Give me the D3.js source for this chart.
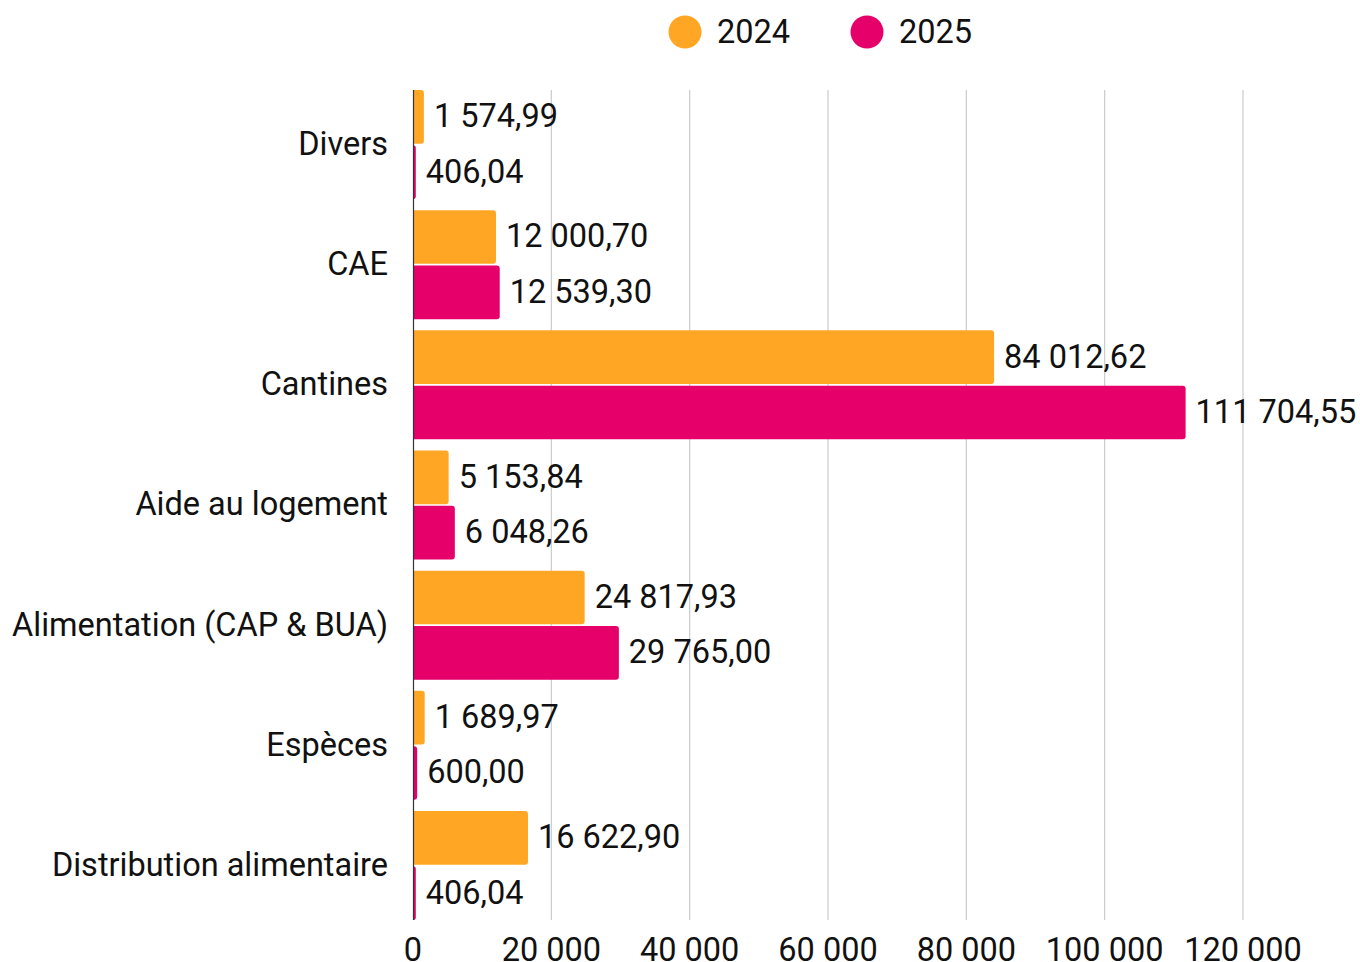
<!DOCTYPE html>
<html><head><meta charset="utf-8">
<script src="https://cdn.jsdelivr.net/npm/d3@7"></script>
<style>body{margin:0;background:#fff}svg{display:block;font-family:Roboto,sans-serif}</style>
</head><body><svg id="c" width="1360" height="962"></svg>
<script>
const categories = ["Divers","CAE","Cantines","Aide au logement","Alimentation (CAP & BUA)","Espèces","Distribution alimentaire"];
const seriesNames = ["2024","2025"];
const values2024 = [1574.99,12000.70,84012.62,5153.84,24817.93,1689.97,16622.90];
const values2025 = [406.04,12539.30,111704.55,6048.26,29765.00,600.00,406.04];
const tickValues = [0,20000,40000,60000,80000,100000,120000];
const colors = ["#FFA624","#E5006A"];

const svg = d3.select("#c");
const loc = d3.formatLocale({decimal:",", thousands:"\u00a0", grouping:[3], currency:["",""]});
const fmtVal = loc.format(",.2f");
const fmtTick = loc.format(",d");
const FS = 32.5;

const x = d3.scaleLinear().domain([0,120000]).range([413,1243]);
const y0 = d3.scaleBand().domain(categories).range([90,920]).paddingInner(0.093).paddingOuter(0);
const y1 = d3.scaleBand().domain(seriesNames).range([0,y0.bandwidth()]).paddingInner(0.03);

// grid
svg.append("g").selectAll("line").data(tickValues.slice(1)).join("line")
  .attr("x1",d=>x(d)).attr("x2",d=>x(d)).attr("y1",90).attr("y2",920)
  .attr("stroke","#cccccc").attr("stroke-width",1.2);

const rows = categories.map((c,i)=>({cat:c, vals:[values2024[i],values2025[i]]}));
function barPath(x0,x1,yy,h){
  const w=x1-x0, r=Math.min(3,w);
  return `M${x0},${yy}H${x1-r}Q${x1},${yy} ${x1},${yy+r}V${yy+h-r}Q${x1},${yy+h} ${x1-r},${yy+h}H${x0}Z`;
}
const g = svg.append("g").selectAll("g").data(rows).join("g")
  .attr("transform",d=>`translate(0,${y0(d.cat)})`);
g.selectAll("path").data(d=>d.vals.map((v,j)=>({v,s:seriesNames[j],j}))).join("path")
  .attr("d",d=>barPath(x(0),x(d.v),y1(d.s),y1.bandwidth()))
  .attr("fill",d=>colors[d.j]);
g.selectAll("text.v").data(d=>d.vals.map((v,j)=>({v,s:seriesNames[j],j}))).join("text")
  .attr("class","v")
  .attr("x",d=>x(d.v)+10).attr("y",d=>y1(d.s)+y1.bandwidth()/2)
  .attr("dy","0.32em").attr("font-size",FS).attr("fill","#111")
  .text(d=>fmtVal(d.v));

// category labels
svg.append("g").selectAll("text").data(categories).join("text")
  .attr("x",388).attr("y",d=>y0(d)+y0.bandwidth()/2)
  .attr("dy","0.32em").attr("text-anchor","end").attr("font-size",FS).attr("fill","#111")
  .text(d=>d);

// axis line
svg.append("line").attr("x1",413.5).attr("x2",413.5).attr("y1",90).attr("y2",920)
  .attr("stroke","#333").attr("stroke-width",1.2);

// x tick labels
svg.append("g").selectAll("text").data(tickValues).join("text")
  .attr("x",d=>x(d)).attr("y",949).attr("dy","0.36em").attr("text-anchor","middle")
  .attr("font-size",FS).attr("fill","#111").text(d=>fmtTick(d));

// legend
const leg = svg.append("g").selectAll("g").data(seriesNames).join("g")
  .attr("transform",(d,i)=>`translate(${[685,867][i]},32)`);
leg.append("circle").attr("r",16.5).attr("fill",(d,i)=>colors[i]);
leg.append("text").attr("x",32).attr("dy","0.34em").attr("font-size",FS).attr("fill","#111").text(d=>d);
</script></body></html>
